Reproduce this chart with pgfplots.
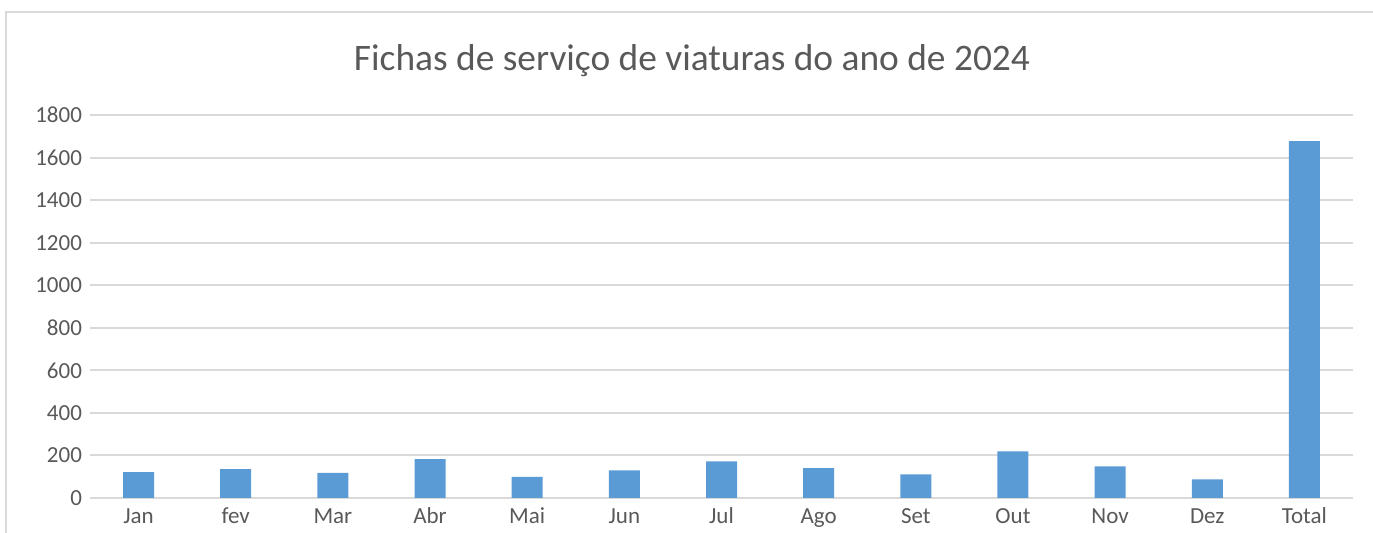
\documentclass[border=0pt]{standalone}
\usepackage{fontspec}
\setmainfont{Carlito}
\usepackage{pgfplots}
\pgfplotsset{compat=1.18}
\definecolor{barblue}{HTML}{5B9BD5}
\definecolor{gridgray}{HTML}{D9D9D9}
\definecolor{txtgray}{HTML}{595959}
\begin{document}
\begin{tikzpicture}[x=0.5pt,y=0.5pt]
\useasboundingbox (0,0) rectangle (1373,533);
% chart frame (left and top edges visible)
\draw[gridgray,line width=1pt] (6,0) -- (6,521) -- (1373,521);
\node[txtgray,font=\fontsize{18.7}{22}\selectfont] at (692,472) {Fichas de serviço de viaturas do ano de 2024};
\begin{axis}[
 at={(45pt,17.5pt)},anchor=south west,scale only axis,
 width=631.5pt,height=191.5pt,
 xmin=-0.5,xmax=12.5,ymin=0,ymax=1800,
 xtick={0,...,12},
 xticklabels={Jan,fev,Mar,Abr,Mai,Jun,Jul,Ago,Set,Out,Nov,Dez,Total},
 ytick={0,200,...,1800},
 ymajorgrids,grid style={gridgray,line width=1pt},
 axis line style={draw=none},major tick length=0pt,
 /pgf/number format/assume math mode=true,
 /pgf/number format/1000 sep={},
 tick label style={txtgray,font=\fontsize{11.5}{13}\selectfont},
 xticklabel style={yshift=-1.5pt,text height=1.6ex,text depth=0.3ex},
 yticklabel style={xshift=-0.5pt},
 ybar,bar width=15.5pt]
\addplot[fill=barblue,draw=none] coordinates {
 (0,122) (1,136) (2,118) (3,183) (4,99) (5,130) (6,172)
 (7,140) (8,111) (9,219) (10,149) (11,88) (12,1677)};
\end{axis}
\end{tikzpicture}
\end{document}
